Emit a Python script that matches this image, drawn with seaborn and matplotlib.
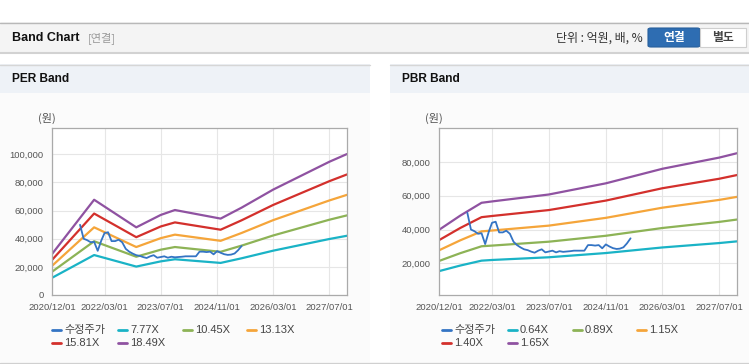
import pandas as pd
import numpy as np
import seaborn as sns
import matplotlib.pyplot as plt
import matplotlib.dates as mdates
from matplotlib.patches import Rectangle, FancyBboxPatch
from matplotlib.lines import Line2D

# ---- data ----
per_dates = ['2020-12-01', '2021-12-01', '2022-12-01', '2023-07-01', '2023-11-01',
             '2024-12-01', '2025-06-01', '2026-03-01', '2027-07-01', '2027-12-01']
per_777 = [12200, 28400, 20200, 23900, 25400, 22800, 26100, 31500, 39800, 42100]
per_1045 = [16500, 38200, 27200, 32200, 34100, 30700, 35100, 42300, 53500, 56600]
per_1313 = [20700, 48100, 34100, 40400, 42900, 38500, 44100, 53200, 67200, 71200]
per_1581 = [24900, 57900, 41100, 48700, 51600, 46400, 53100, 64000, 80900, 85700]
per_1849 = [29100, 67700, 48100, 56900, 60400, 54300, 62100, 74900, 94700, 100200]
per_labels = ['7.77X', '10.45X', '13.13X', '15.81X', '18.49X']

pbr_dates = ['2020-12-01', '2021-06-01', '2021-12-01', '2022-03-01', '2023-07-01',
             '2024-11-01', '2026-03-01', '2027-07-01', '2027-12-01']
pbr_064 = [15400, 18700, 21600, 22000, 23600, 26100, 29400, 32000, 33000]
pbr_089 = [21400, 26000, 30100, 30500, 32800, 36300, 40900, 44500, 45900]
pbr_115 = [27700, 33600, 38900, 39400, 42300, 46900, 52900, 57500, 59300]
pbr_140 = [33700, 40900, 47300, 48000, 51500, 57100, 64400, 70000, 72200]
pbr_165 = [39800, 48200, 55800, 56600, 60700, 67300, 75900, 82500, 85100]
pbr_labels = ['0.64X', '0.89X', '1.15X', '1.40X', '1.65X']

# 수정주가, monthly 2021-08 .. 2025-06
price_dates = pd.date_range('2021-08-01', '2025-06-01', freq='MS')
price = [49900, 40000, 39000, 37500, 37800,
         31400, 38700, 44000, 44600, 38300, 38300, 39300, 37500, 32800, 30800, 29400, 28300,
         27800, 26900, 26300, 27500, 28300, 26500, 27000, 27500, 26500, 27200, 26800, 27000,
         27200, 27500, 27500, 27500, 27500, 30800, 30800, 30500, 30800, 28900, 31200, 30000,
         29000, 28500, 28700, 29500, 31800, 34800]

tick_dates = ['2020-12-01', '2022-03-01', '2023-07-01', '2024-11-01', '2026-03-01', '2027-07-01']
band_colors = ['#1ab3c6', '#8db356', '#f5a53a', '#d3302c', '#8f52a1']
price_color = '#3474c4'

# ---- style ----
sns.set_theme(style='white')
plt.rcParams['font.family'] = ['Liberation Sans', 'Noto Sans CJK KR', 'DejaVu Sans']

W, H = 749, 364
fig = plt.figure(figsize=(W / 100, H / 100), dpi=100)
fig.patch.set_facecolor('white')


def box(x, y, w, h, **kw):
    fig.add_artist(Rectangle((x / W, 1 - (y + h) / H), w / W, h / H,
                             transform=fig.transFigure, zorder=-5, **kw))


def hline(x0, x1, y, color, lw=1):
    fig.add_artist(Line2D([x0 / W, x1 / W], [1 - y / H, 1 - y / H],
                          transform=fig.transFigure, color=color, lw=lw, zorder=-4))


def ftext(x, y, s, **kw):
    fig.text(x / W, 1 - y / H, s, **kw)


# top bar
box(0, 22, W, 31, facecolor='#f4f4f4', edgecolor='none')
hline(0, W, 22.5, '#b8b8b8')
hline(0, W, 53, '#d2d2d2', lw=1.5)
ftext(12, 38, 'Band Chart', fontsize=9, fontweight='bold', va='center', color='#111111')
ftext(88, 38.5, '[연결]', fontsize=8, va='center', color='#999999',
      family=['Noto Sans CJK KR'])
ftext(643, 38.5, '단위 : 억원, 배, %', fontsize=8.6, va='center', ha='right',
      color='#333333', family=['Noto Sans CJK KR', 'Liberation Sans'])
fig.add_artist(FancyBboxPatch((648 / W, 1 - 47 / H), 52 / W, 19 / H,
                              boxstyle='round,pad=0,rounding_size=0.004',
                              transform=fig.transFigure, facecolor='#2e6db2',
                              edgecolor='#285f9c', lw=0.8))
fig.add_artist(Rectangle((700 / W, 1 - 47 / H), 46 / W, 19 / H, transform=fig.transFigure,
                         facecolor='white', edgecolor='#cfcfcf', lw=0.8))
ftext(674, 38, '연결', fontsize=8.5, fontweight='bold', ha='center', va='center',
      color='white', family=['Noto Sans CJK KR'])
ftext(723, 38, '별도', fontsize=8.5, fontweight='bold', ha='center', va='center',
      color='#444444', family=['Noto Sans CJK KR'])

# panels
for px0, px1, title in [(0, 370, 'PER Band'), (390, W, 'PBR Band')]:
    box(px0, 64, px1 - px0, 29, facecolor='#eef2f7', edgecolor='none')
    box(px0, 93, px1 - px0, 269, facecolor='#fbfbfb', edgecolor='none')
    hline(px0, px1, 64.5, '#d6d6d6')
    ftext(px0 + 12, 78.5, title, fontsize=8.6, fontweight='bold', va='center', color='#111111')
hline(0, W, 362.5, '#d0d0d0')


def draw_panel(ax_box, dates, bands, labels, ylim, yticks, unit_x, legend_x0):
    x, y, w, h = ax_box
    ax = fig.add_axes([x / W, 1 - (y + h) / H, w / W, h / H])
    ax.set_facecolor('white')
    long = pd.DataFrame({
        'date': np.tile(pd.to_datetime(dates), len(bands)),
        'value': np.concatenate(bands),
        'series': np.repeat(labels, len(dates)),
    })
    sns.lineplot(data=long, x='date', y='value', hue='series', hue_order=labels,
                 palette=band_colors, linewidth=1.6, legend=False, ax=ax)
    sns.lineplot(x=price_dates, y=price, color=price_color, linewidth=1.3, ax=ax)

    ax.set_xlim(pd.Timestamp('2020-12-01'), pd.Timestamp('2027-12-01'))
    ax.set_ylim(*ylim)
    ax.set_xticks(pd.to_datetime(tick_dates))
    ax.xaxis.set_major_formatter(mdates.DateFormatter('%Y/%m/%d'))
    ax.set_yticks(yticks)
    ax.yaxis.set_major_formatter(plt.FuncFormatter(lambda v, p: f'{int(v):,}'))
    ax.grid(True, color='#e6e6e6', linewidth=0.8)
    ax.set_axisbelow(True)
    for s in ax.spines.values():
        s.set_color('#aaaaaa')
        s.set_linewidth(0.9)
    ax.tick_params(axis='both', length=0, labelsize=6.8, colors='#555555')
    ax.tick_params(axis='x', pad=6)
    ax.tick_params(axis='y', pad=6)
    ax.set_xlabel('')
    ax.set_ylabel('')

    ftext(unit_x, 118, '(원)', fontsize=8, ha='center', va='center', color='#555555',
          family=['Noto Sans CJK KR'])

    # legend laid out like the page: two rows, fixed slots
    names = ['수정주가'] + labels
    colors = [price_color] + band_colors
    slots = [(0, 0), (66, 0), (131, 0), (195, 0), (0, 13), (66, 13)]
    for (dx, dy), name, c in zip(slots, names, colors):
        lx = legend_x0 + dx
        ly = 330 + dy
        fig.add_artist(Line2D([lx / W, (lx + 9) / W], [1 - ly / H, 1 - ly / H],
                              transform=fig.transFigure, color=c, lw=2))
        ftext(lx + 12, ly, name, fontsize=8, va='center', color='#444444')
    return ax


draw_panel((52, 128, 295, 167), per_dates,
           [per_777, per_1045, per_1313, per_1581, per_1849], per_labels,
           (0, 118700), [0, 20000, 40000, 60000, 80000, 100000], 47, 52)
draw_panel((439, 128, 298, 167), pbr_dates,
           [pbr_064, pbr_089, pbr_115, pbr_140, pbr_165], pbr_labels,
           (1300, 100000), [20000, 40000, 60000, 80000], 434, 442)

fig.savefig('out.png', dpi=100, facecolor=fig.get_facecolor())
